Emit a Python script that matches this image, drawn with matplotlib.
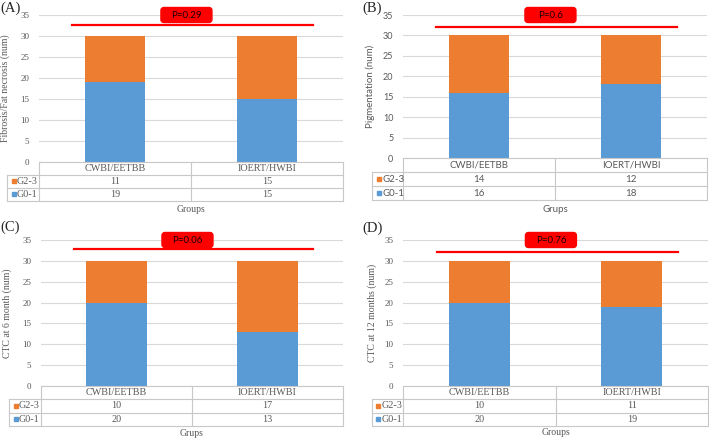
import matplotlib.pyplot as plt
from matplotlib.patches import FancyBboxPatch
import matplotlib.transforms as mtransforms

# ---- data ----
groups = ["CWBI/EETBB", "IOERT/HWBI"]
series_names = ["G2-3", "G0-1"]

g01_a = [19, 15]
g23_a = [11, 15]
g01_b = [16, 18]
g23_b = [14, 12]
g01_c = [20, 13]
g23_c = [10, 17]
g01_d = [20, 19]
g23_d = [10, 11]

p_labels = ["P=0.29", "P=0.6", "P=0.06", "P=0.76"]
panel_tags = ["(A)", "(B)", "(C)", "(D)"]
y_titles = ["Fibrosis/Fat necrosis (num)", "Pigmentation (num)",
            "CTC at 6 month (num)", "CTC at 12 months (num)"]
x_titles = ["Groups", "Grups", "Grups", "Groups"]
y_ticks = [0, 5, 10, 15, 20, 25, 30, 35]

BLUE = "#5B9BD5"
ORANGE = "#ED7D31"
RED = "#FF0000"
GRID = "#D9D9D9"
TABLE_LINE = "#C8C8C8"
TXT = "#595959"

W, H = 709, 440
fig = plt.figure(figsize=(W / 100, H / 100), dpi=100)


def px_rect(left, top, right, bottom):
    return [left / W, 1 - bottom / H, (right - left) / W, (bottom - top) / H]


def draw_panel(i, g01, g23, lay, font, tsize):
    left, top, right, bottom, tleft, rowh, xlab_y, ylab_x, line_y = lay
    ax = fig.add_axes(px_rect(left, top, right, bottom))
    x = list(range(len(groups)))
    ax.bar(x, g01, width=0.4, color=BLUE, zorder=2)
    ax.bar(x, g23, width=0.4, bottom=g01, color=ORANGE, zorder=2)
    ax.set_xlim(-0.5, len(groups) - 0.5)
    ax.set_ylim(0, 35)
    ax.set_yticks(y_ticks)
    ax.set_xticks([])
    ax.yaxis.grid(True, color=GRID, lw=0.8, zorder=0)
    ax.set_axisbelow(True)
    for s in ax.spines.values():
        s.set_visible(False)
    ax.tick_params(axis="y", length=0, pad=7, labelsize=6.5, labelcolor=TXT)
    for t in ax.get_yticklabels():
        t.set_family(font)
    ax.set_ylabel(y_titles[i], fontsize=7, color=TXT, family=font)
    ax.yaxis.set_label_coords(ylab_x, 0.5)

    # significance line + p-value box
    ax.plot([-0.28, 1.30], [line_y, line_y], color=RED, lw=1.6, clip_on=False, zorder=3)
    trans = fig.dpi_scale_trans + mtransforms.ScaledTranslation(0.47, 35, ax.transData)
    box = FancyBboxPatch((-0.255, -0.075), 0.51, 0.15,
                         boxstyle="round,pad=0,rounding_size=0.03",
                         fc=RED, ec=RED, transform=trans, clip_on=False, zorder=4)
    ax.add_patch(box)
    ax.text(0, 0, p_labels[i], transform=trans, ha="center", va="center",
            fontsize=7, color="#1a0000", family="Lato", zorder=5)

    # data table below the plot
    r1, r2, r3 = bottom + rowh, bottom + 2 * rowh, bottom + 3 * rowh
    tax = fig.add_axes(px_rect(tleft, bottom, right + 1, r3 + 1))
    tax.set_xlim(tleft, right + 1)
    tax.set_ylim(r3 + 1, bottom)
    tax.axis("off")
    kw = dict(color=TABLE_LINE, lw=0.8, clip_on=False)
    tax.plot([left, right], [bottom, bottom], **kw)
    for yy in (r1, r2, r3):
        tax.plot([tleft, right], [yy, yy], **kw)
    tax.plot([tleft, tleft], [r1, r3], **kw)
    colw = (right - left) / len(groups)
    for k in range(len(groups) + 1):
        xx = left + k * colw
        tax.plot([xx, xx], [bottom, r3], **kw)
    for k, g in enumerate(groups):
        cx = left + (k + 0.5) * colw
        tax.text(cx, bottom + rowh / 2, g, ha="center", va="center",
                 fontsize=tsize, color=TXT, family=font)
        tax.text(cx, r1 + rowh / 2, str(g23[k]), ha="center", va="center",
                 fontsize=tsize, color=TXT, family=font)
        tax.text(cx, r2 + rowh / 2, str(g01[k]), ha="center", va="center",
                 fontsize=tsize, color=TXT, family=font)
    for name, col, yy in ((series_names[0], ORANGE, r1), (series_names[1], BLUE, r2)):
        tax.plot([tleft + 6.5], [yy + rowh / 2], marker="s", ms=3.2, color=col,
                 clip_on=False)
        tax.text(tleft + 10, yy + rowh / 2, name, ha="left", va="center",
                 fontsize=tsize, color=TXT, family=font)

    fig.text((left + right) / 2 / W, 1 - xlab_y / H, x_titles[i], ha="center",
             va="center", fontsize=7, color=TXT, family=font)


# left, top, right, bottom, table-left, row height, x-title y, y-title x, line y
layouts = [
    (39, 15, 343, 162, 7, 13, 209, -0.095, 32.6),
    (403, 15, 707, 158, 372, 14, 209, -0.092, 32.1),
    (41, 240, 343, 386, 9, 13.3, 433, -0.096, 32.8),
    (403, 240, 708, 386, 372, 13.3, 432, -0.085, 32.1),
]
fonts = ["Liberation Serif", "Lato", "Liberation Serif", "Liberation Serif"]
table_sizes = [7.3, 7, 7.3, 7.3]
data = [(g01_a, g23_a), (g01_b, g23_b), (g01_c, g23_c), (g01_d, g23_d)]

for i in range(4):
    draw_panel(i, data[i][0], data[i][1], layouts[i], fonts[i], table_sizes[i])

tag_pos = [(0, 8), (362, 8), (0, 227), (362, 228)]
for tag, (tx, ty) in zip(panel_tags, tag_pos):
    fig.text(tx / W, 1 - ty / H, tag, ha="left", va="center", fontsize=10.5,
             family="Liberation Serif", color="#262626")

fig.savefig("out.png", dpi=100)
